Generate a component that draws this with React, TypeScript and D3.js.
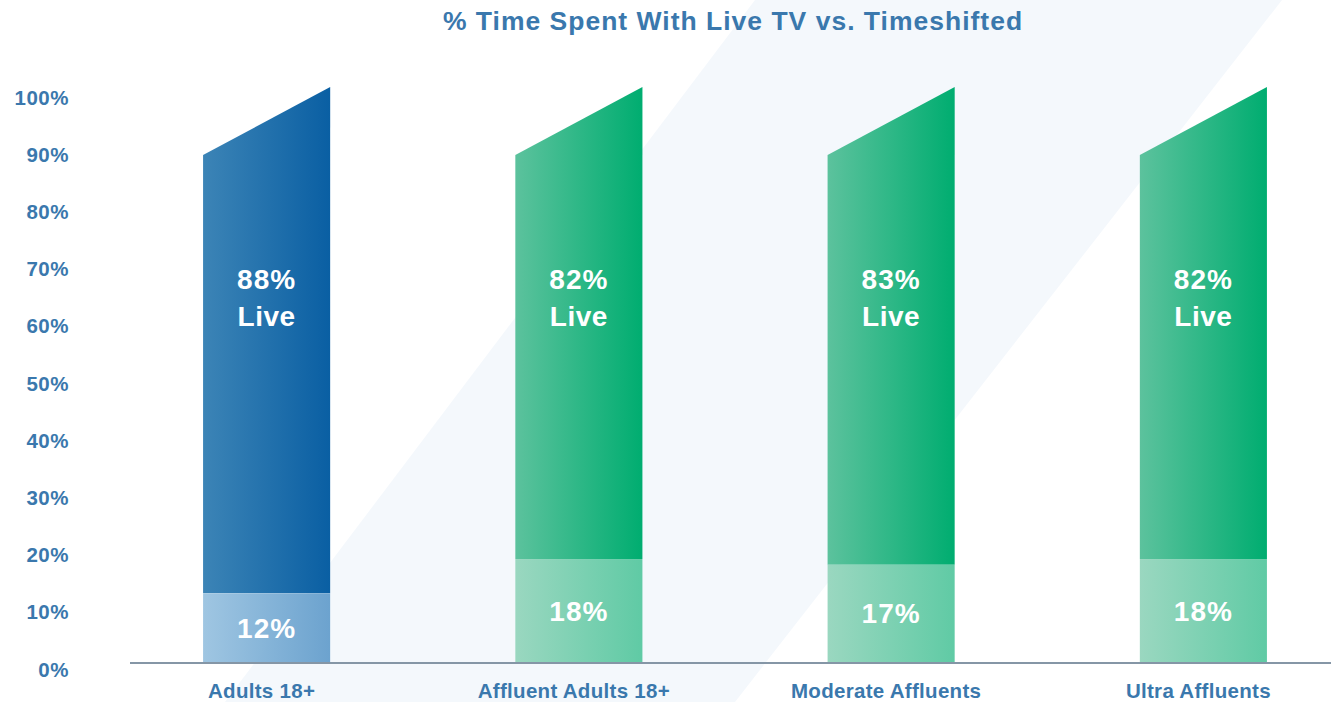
import React from "react";
import * as d3 from "d3";

const categories = ["Adults 18+", "Affluent Adults 18+", "Moderate Affluents", "Ultra Affluents"];
const liveValues = [88, 82, 83, 82];
const timeshiftedValues = [12, 18, 17, 18];
const barTheme = ["blue", "green", "green", "green"];
const yTicks = [0, 10, 20, 30, 40, 50, 60, 70, 80, 90, 100];
const title = "% Time Spent With Live TV vs. Timeshifted";

const W = 1331;
const H = 702;
const TEXT = "#3a78ad";
const FONT = "'Liberation Sans', Arial, Helvetica, sans-serif";

const gradients: Record<string, { dark: [string, string]; light: [string, string] }> = {
  blue: { dark: ["#3c84b6", "#0a5fa3"], light: ["#9cc4e1", "#68a0cd"] },
  green: { dark: ["#5cc29d", "#00ad70"], light: ["#97d6be", "#5bc9a2"] },
};

export default function App() {
  const y = d3.scaleLinear().domain([0, 100]).range([662, 90]);
  const x = d3
    .scaleBand<string>()
    .domain(categories)
    .range([130, 1340])
    .paddingInner(0.593)
    .paddingOuter(0.234);
  const bw = x.bandwidth();

  // decorative background band
  const bandPath = "M755,0 L1282,0 L735,702 L225,702 Z";

  return (
    <svg
      width={W}
      height={H}
      style={{ position: "absolute", left: 0, top: 0, background: "#fff" }}
      fontFamily={FONT}
    >
      <defs>
        {Object.entries(gradients).map(([k, g]) => (
          <React.Fragment key={k}>
            <linearGradient id={`${k}-dark`} x1="0" x2="1" y1="0" y2="0">
              <stop offset="0" stopColor={g.dark[0]} />
              <stop offset="1" stopColor={g.dark[1]} />
            </linearGradient>
            <linearGradient id={`${k}-light`} x1="0" x2="1" y1="0" y2="0">
              <stop offset="0" stopColor={g.light[0]} />
              <stop offset="1" stopColor={g.light[1]} />
            </linearGradient>
          </React.Fragment>
        ))}
      </defs>
      <rect width={W} height={H} fill="#fff" />
      <path d={bandPath} fill="#f4f8fc" />

      <text x={733} y={30} textAnchor="middle" fontSize={26.5} fontWeight="bold" fill={TEXT} letterSpacing={1}>
        {title}
      </text>

      {yTicks.map((t) => (
        <text key={t} x={69} y={y(t) + 14.5} textAnchor="end" fontSize={20.5} fontWeight="bold" fill={TEXT} letterSpacing={0.5}>
          {t}%
        </text>
      ))}

      {categories.map((c, i) => {
        const x0 = x(c)!;
        const x1 = x0 + bw;
        const ts = timeshiftedValues[i];
        const live = liveValues[i];
        const total = ts + live;
        const topRight = y(total) - 3;
        const topLeft = topRight + 68;
        const yTs = y(ts);
        const theme = barTheme[i];
        const livePath = `M${x0},${yTs} L${x0},${topLeft} L${x1},${topRight} L${x1},${yTs} Z`;
        const cx = x0 + bw / 2;
        return (
          <g key={c}>
            <path d={livePath} fill={`url(#${theme}-dark)`} />
            <rect x={x0} y={yTs} width={bw} height={y(0) - yTs} fill={`url(#${theme}-light)`} opacity={0.97} />
            <text x={cx} y={289} textAnchor="middle" fontSize={28} fontWeight="bold" fill="#fff" letterSpacing={1}>
              {live}%
            </text>
            <text x={cx} y={326} textAnchor="middle" fontSize={28} fontWeight="bold" fill="#fff" letterSpacing={0.5}>
              Live
            </text>
            <text x={cx} y={(yTs + y(0)) / 2 + 10} textAnchor="middle" fontSize={28} fontWeight="bold" fill="#fff" letterSpacing={1}>
              {ts}%
            </text>
            <text x={cx - 5} y={698} textAnchor="middle" fontSize={20.5} fontWeight="bold" fill={TEXT} letterSpacing={0.3}>
              {c}
            </text>
          </g>
        );
      })}

      <line x1={130} x2={W} y1={y(0) + 1} y2={y(0) + 1} stroke="#8596a6" strokeWidth={2} />
    </svg>
  );
}
